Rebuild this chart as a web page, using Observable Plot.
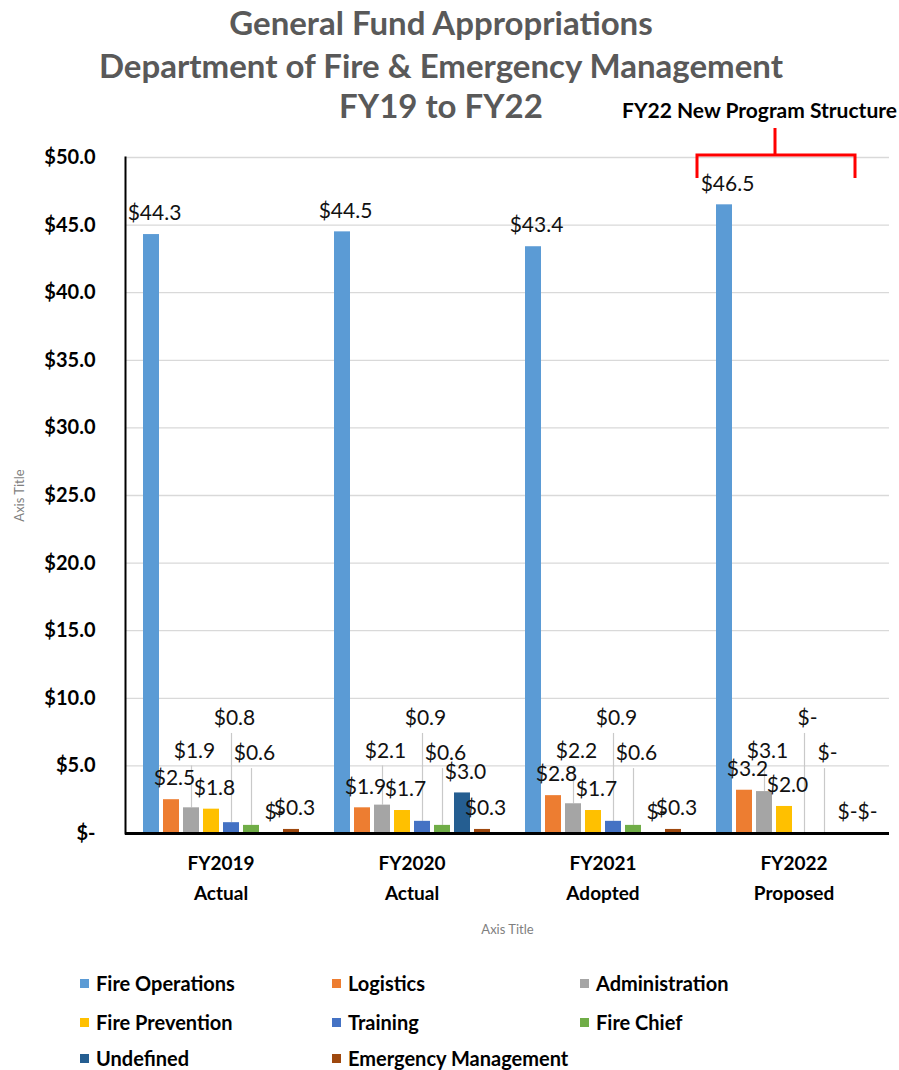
<!DOCTYPE html>
<html><head><meta charset="utf-8">
<script src="https://cdn.jsdelivr.net/npm/d3@7"></script>
<script src="https://cdn.jsdelivr.net/npm/@observablehq/plot@0.6"></script>
<style>
body{margin:0;background:#fff;font-family:Lato,"Open Sans",sans-serif;}
#wrap{position:relative;width:899px;}
#title{height:125px;position:relative;}
.t{position:absolute;left:0;width:882px;text-align:center;font-weight:700;font-size:33px;line-height:38px;color:#595959;white-space:nowrap;}
#note{position:absolute;right:2px;top:97px;font-weight:700;font-size:21px;line-height:26px;color:#000;white-space:nowrap;}
#legend{position:relative;height:115px;}
.li{position:absolute;font-weight:700;font-size:20px;line-height:24px;display:flex;align-items:center;color:#000;white-space:nowrap;}
.sw{width:9px;height:9px;margin-right:7px;}
g[aria-label="y-axis label"] text, g[aria-label="fx-axis label"] text{font-size:13px;font-weight:400;fill:#7f7f7f;}
g[aria-label="y-axis tick label"] text, g[aria-label="fx-axis tick label"] text{font-weight:700;}
</style></head>
<body>
<div id="wrap">
  <div id="title"></div>
  <div id="chart"></div>
  <div id="legend"></div>
</div>
<script>
// ---- data ----
const titleLines = ["General Fund Appropriations", "Department of Fire & Emergency Management", "FY19 to FY22"];
const noteText = "FY22 New Program Structure";
const fiscalYears = ["FY2019", "FY2020", "FY2021", "FY2022"];
const budgetStages = ["Actual", "Actual", "Adopted", "Proposed"];
const seriesNames = ["Fire Operations", "Logistics", "Administration", "Fire Prevention", "Training", "Fire Chief", "Undefined", "Emergency Management"];
const fireOperations = [44.3, 44.5, 43.4, 46.5];
const logistics = [2.5, 1.9, 2.8, 3.2];
const administration = [1.9, 2.1, 2.2, 3.1];
const firePrevention = [1.8, 1.7, 1.7, 2.0];
const training = [0.8, 0.9, 0.9, 0];
const fireChief = [0.6, 0.6, 0.6, 0];
const undefinedProgram = [0, 3.0, 0, 0];
const emergencyManagement = [0.3, 0.3, 0.3, 0];
const yTicks = [0, 5, 10, 15, 20, 25, 30, 35, 40, 45, 50];

// ---- styling / layout ----
const seriesColors = ["#5B9BD5", "#ED7D31", "#A5A5A5", "#FFC000", "#4472C4", "#70AD47", "#255E91", "#9E480E"];
const calloutLevel = {"Administration": 6.1, "Training": 8.5, "Fire Chief": 5.9};

const seriesValues = [fireOperations, logistics, administration, firePrevention, training, fireChief, undefinedProgram, emergencyManagement];
const periods = fiscalYears.map((y, i) => y + "\n" + budgetStages[i]);
const table = periods.flatMap((p, i) => seriesNames.map((s, j) => ({period: p, series: s, value: seriesValues[j][i]})));
const fmt = d => d.value === 0 ? "$-" : "$" + d.value.toFixed(1);
const regular = table.filter(d => !(d.series in calloutLevel));
const callouts = table.filter(d => d.series in calloutLevel);

// title
const title = document.getElementById("title");
titleLines.forEach((t, i) => {
  const el = document.createElement("div");
  el.className = "t"; el.textContent = t; el.style.top = [3, 46, 86][i] + "px";
  title.appendChild(el);
});
const note = document.createElement("div");
note.id = "note"; note.textContent = noteText; title.appendChild(note);

const plot = Plot.plot({
  width: 899, height: 830,
  marginTop: 32, marginLeft: 123, marginRight: 9, marginBottom: 122,
  style: {fontFamily: "Lato, 'Open Sans', sans-serif", color: "#000", background: "#fff"},
  fx: {domain: periods, padding: 0},
  x: {domain: seriesNames, paddingInner: 0.2, paddingOuter: 0.83, axis: null},
  y: {domain: [0, 50]},
  color: {domain: seriesNames, range: seriesColors},
  marks: [
    Plot.gridY({ticks: yTicks, stroke: "#d9d9d9", strokeOpacity: 1, strokeWidth: 1.3}),
    Plot.axisY({ticks: yTicks, tickSize: 0, tickPadding: 30, fontSize: 20, fontWeight: "bold",
      tickFormat: d => d === 0 ? "$-" : "$" + d.toFixed(1),
      label: "Axis Title", labelArrow: "none", labelAnchor: "center", labelOffset: 111}),
    Plot.axisFx({anchor: "bottom", tickSize: 0, tickPadding: 15, fontSize: 19, fontWeight: "bold", lineHeight: 1.58,
      label: "Axis Title", labelAnchor: "center", labelOffset: 100}),
    Plot.ruleX(callouts, {fx: "period", x: "series", y1: "value", y2: d => calloutLevel[d.series] - 1.1, stroke: "#c9c9c9", strokeWidth: 1.2}),
    Plot.barY(table, {fx: "period", x: "series", y: "value", fill: "series"}),
    Plot.ruleY([0], {stroke: "#000", strokeWidth: 3}),
    Plot.frame({anchor: "left", facetAnchor: "left", stroke: "#000", strokeWidth: 2}),
    Plot.text(regular, {fx: "period", x: "series", y: "value", text: fmt, dy: -21, dx: 3, fontSize: 21, fill: "#111"}),
    Plot.text(callouts, {fx: "period", x: "series", y: d => calloutLevel[d.series], text: fmt, dx: 3, fontSize: 21, fill: "#111"})
  ]
});
document.getElementById("chart").appendChild(plot);

// bracket annotation above FY22 group
d3.select(plot).append("path")
  .attr("d", "M697,53V30H855V53M775,30V3")
  .attr("fill", "none").attr("stroke", "#ff0000").attr("stroke-width", 3);

// legend
const legend = document.getElementById("legend");
const colX = [80, 332, 580], rowY = [16, 55, 91];
seriesNames.forEach((s, i) => {
  const el = document.createElement("div");
  el.className = "li";
  el.style.left = colX[i % 3] + "px"; el.style.top = rowY[Math.floor(i / 3)] + "px";
  el.innerHTML = `<span class="sw" style="background:${seriesColors[i]}"></span>${s}`;
  legend.appendChild(el);
});
</script>
</body></html>
